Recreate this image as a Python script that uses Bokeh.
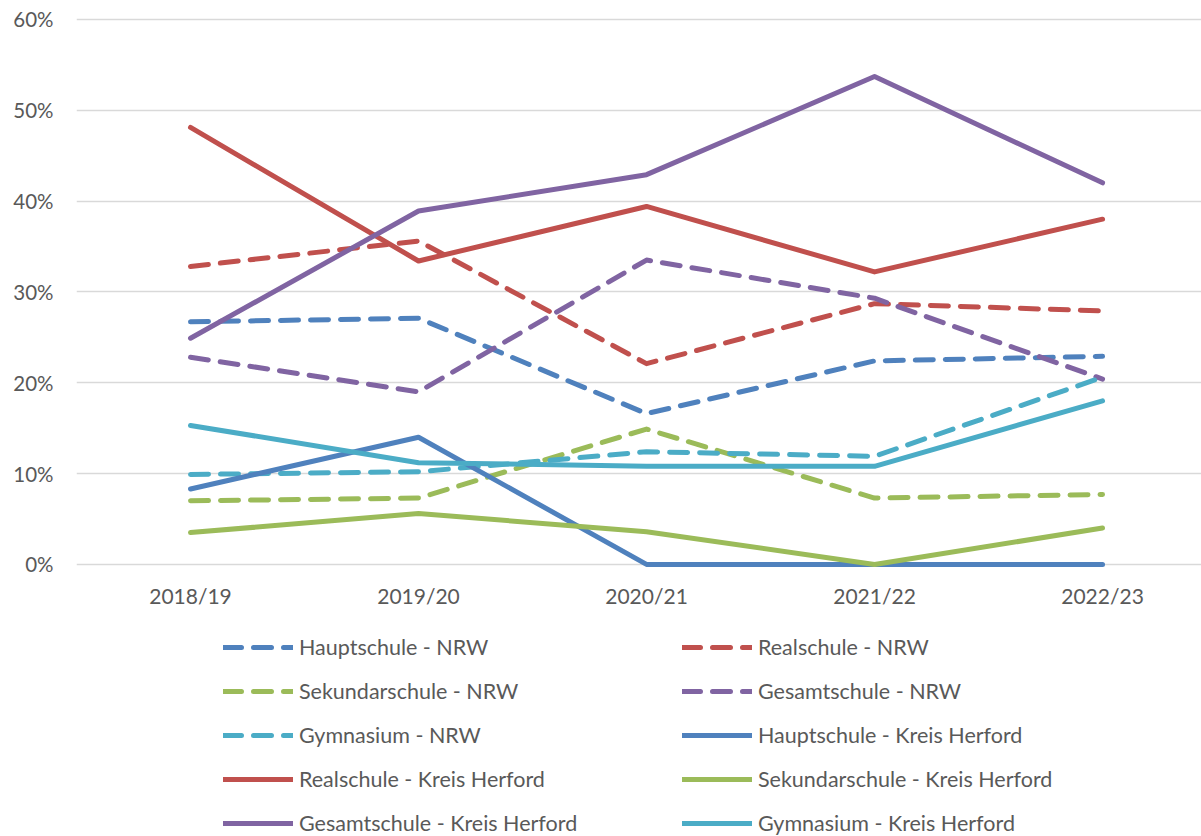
from bokeh.plotting import figure
from bokeh.models import Range1d, FixedTicker, Legend, LegendItem, PrintfTickFormatter
from bokeh.embed import file_html
from bokeh.resources import INLINE

categories = ["2018/19", "2019/20", "2020/21", "2021/22", "2022/23"]
y_ticks = [0, 10, 20, 30, 40, 50, 60]

hauptschule_nrw = [26.7, 27.1, 16.6, 22.4, 22.9]
realschule_nrw = [32.8, 35.6, 22.1, 28.7, 27.9]
sekundarschule_nrw = [7.0, 7.3, 14.9, 7.3, 7.7]
gesamtschule_nrw = [22.8, 19.0, 33.5, 29.3, 20.4]
gymnasium_nrw = [9.9, 10.2, 12.4, 11.9, 20.6]
hauptschule_kh = [8.3, 14.0, 0.0, 0.0, 0.0]
realschule_kh = [48.1, 33.4, 39.4, 32.2, 38.0]
sekundarschule_kh = [3.5, 5.6, 3.6, 0.0, 4.0]
gesamtschule_kh = [24.9, 38.9, 42.9, 53.7, 42.0]
gymnasium_kh = [15.3, 11.2, 10.8, 10.8, 18.0]

series = [
    ("Hauptschule - NRW", hauptschule_nrw, "#4F81BD", True),
    ("Realschule - NRW", realschule_nrw, "#C0504D", True),
    ("Sekundarschule - NRW", sekundarschule_nrw, "#9BBB59", True),
    ("Gesamtschule - NRW", gesamtschule_nrw, "#8064A2", True),
    ("Gymnasium - NRW", gymnasium_nrw, "#4BACC6", True),
    ("Hauptschule - Kreis Herford", hauptschule_kh, "#4F81BD", False),
    ("Realschule - Kreis Herford", realschule_kh, "#C0504D", False),
    ("Sekundarschule - Kreis Herford", sekundarschule_kh, "#9BBB59", False),
    ("Gesamtschule - Kreis Herford", gesamtschule_kh, "#8064A2", False),
    ("Gymnasium - Kreis Herford", gymnasium_kh, "#4BACC6", False),
]

FONT = "Lato"
TEXT_COLOR = "#595959"
FS = "20.5px"

p = figure(width=1201, height=836, output_backend="svg", toolbar_location=None,
           x_range=Range1d(-0.5, 4.434), y_range=Range1d(-29.95, 60.2),
           min_border_left=76, min_border_right=0, min_border_top=17,
           min_border_bottom=0)
p.outline_line_color = None
p.background_fill_color = "white"
p.border_fill_color = "white"

x_idx = list(range(len(categories)))
items = []
for name, vals, color, dashed in series:
    r = p.line(x_idx, vals, line_color=color, line_width=5,
               line_dash="18 12" if dashed else "solid",
               line_cap="round", line_join="round")
    items.append(LegendItem(label=name, renderers=[r]))

# axes
p.xaxis.fixed_location = 0
p.xaxis.ticker = FixedTicker(ticks=x_idx)
p.xaxis.major_label_overrides = {i: c for i, c in enumerate(categories)}
p.yaxis.ticker = FixedTicker(ticks=y_ticks)
p.yaxis.formatter = PrintfTickFormatter(format="%d%%")
for ax in (p.xaxis, p.yaxis):
    ax.axis_line_color = None
    ax.major_tick_line_color = None
    ax.minor_tick_line_color = None
    ax.major_label_text_font = FONT
    ax.major_label_text_font_size = FS
    ax.major_label_text_color = TEXT_COLOR
p.xaxis.major_label_text_font_size = "21px"
p.xaxis.major_label_standoff = 13
p.yaxis.major_label_standoff = 17

p.xgrid.visible = False
p.ygrid.ticker = FixedTicker(ticks=y_ticks)
p.ygrid.grid_line_color = "#D9D9D9"
p.ygrid.grid_line_width = 1.3

legend = Legend(items=items, location=(147, 0), orientation="horizontal", ncols=2,
                glyph_width=70, glyph_height=26, label_height=26, label_width=365,
                label_standoff=6, spacing=18, padding=0, margin=0,
                border_line_color=None, background_fill_alpha=0,
                label_text_font=FONT, label_text_font_size="21.5px",
                label_text_color=TEXT_COLOR)
p.add_layout(legend, "center")

open("out.html", "w").write(file_html(p, INLINE))
